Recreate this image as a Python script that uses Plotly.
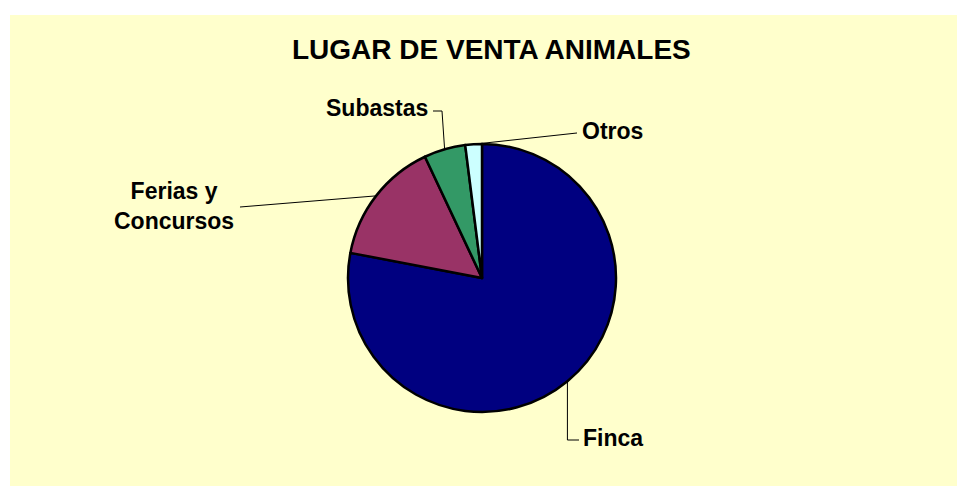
import math
import plotly.graph_objects as go

# Sales channels for animals (share of sales, %)
categories = ["Finca", "Ferias y Concursos", "Subastas", "Otros"]
shares = [78, 15, 5, 2]
label_text = ["Finca", "Ferias y<br>Concursos", "Subastas", "Otros"]
colors = ["#000080", "#993366", "#339966", "#CCFFFF"]

W, H = 957, 486
CX, CY, R = 482, 278, 134  # pie centre and radius in pixels


def px(x):
    return x / W


def py(y):
    return 1 - y / H


fig = go.Figure()
fig.add_trace(go.Pie(
    labels=categories,
    values=shares,
    sort=False,
    direction="clockwise",
    rotation=0,
    marker=dict(colors=colors, line=dict(color="black", width=2.5)),
    textinfo="none",
    hoverinfo="label+percent",
    showlegend=False,
    domain=dict(x=[px(CX - R), px(CX + R)], y=[py(CY + R), py(CY - R)]),
))

# Leader-line bends and label anchors (pixels)
label_cfg = {
    "Finca": dict(path=[(None, 440), (579, 440)], x=581, y=438, xanchor="left"),
    "Ferias y Concursos": dict(path=[(240, 207)], x=236, y=206, xanchor="right"),
    "Subastas": dict(path=[(442, 111), (433, 111)], x=430, y=108, xanchor="right"),
    "Otros": dict(path=[(577, 133)], x=580, y=131, xanchor="left"),
}

shapes = [dict(type="rect", xref="paper", yref="paper",
               x0=px(10), x1=1, y0=0, y1=py(15),
               fillcolor="#FFFFCC", line=dict(width=0), layer="below")]
annotations = [dict(text="<b>LUGAR DE VENTA ANIMALES</b>", x=px(491), y=py(50),
                    xref="paper", yref="paper", showarrow=False,
                    xanchor="center", yanchor="middle",
                    font=dict(family="Arial, Liberation Sans", size=28, color="black"))]

total = sum(shares)
cum = 0
for cat, val, txt in zip(categories, shares, label_text):
    mid = (cum + val / 2) / total * 2 * math.pi
    cum += val
    sx = CX + R * math.sin(mid)
    sy = CY - R * math.cos(mid)
    cfg = label_cfg[cat]
    pts = [(sx, sy)]
    for bx, by in cfg["path"]:
        pts.append((sx if bx is None else bx, by))
    d = "M " + " L ".join(f"{px(x):.5f},{py(y):.5f}" for x, y in pts)
    shapes.append(dict(type="path", path=d, xref="paper", yref="paper",
                       line=dict(color="black", width=1), layer="above"))
    annotations.append(dict(text=f"<b>{txt}</b>", x=px(cfg["x"]), y=py(cfg["y"]),
                            xref="paper", yref="paper", showarrow=False,
                            xanchor=cfg["xanchor"], yanchor="middle", align="center",
                            font=dict(family="Arial, Liberation Sans", size=23, color="black")))

fig.update_layout(
    width=W, height=H,
    margin=dict(l=0, r=0, t=0, b=0),
    paper_bgcolor="white",
    plot_bgcolor="white",
    shapes=shapes,
    annotations=annotations,
)

fig.write_html("out.html")
